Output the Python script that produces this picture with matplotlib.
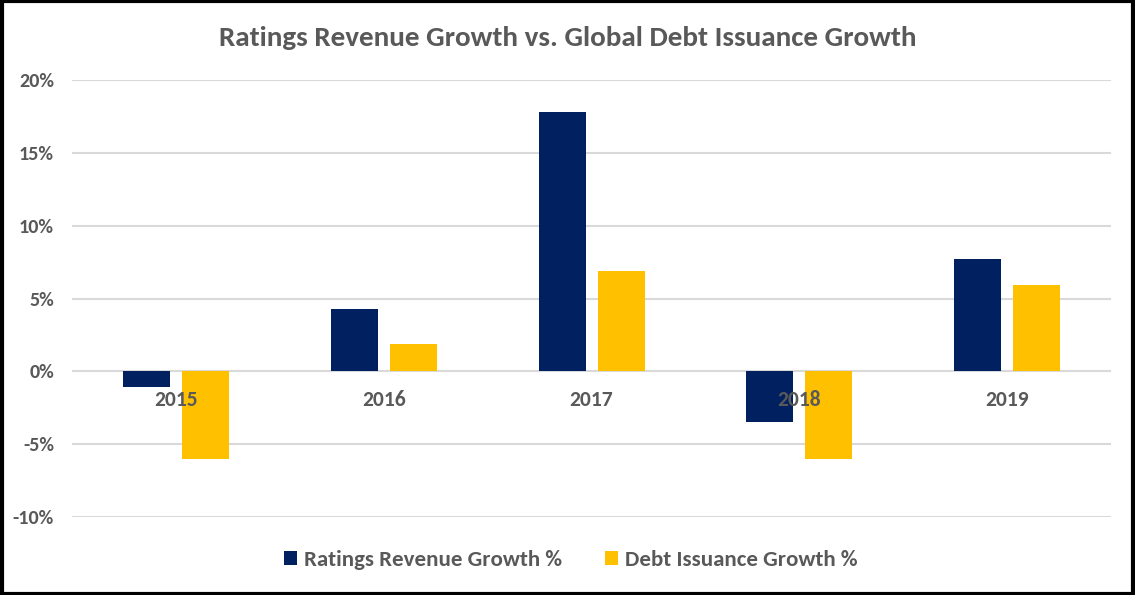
import matplotlib
matplotlib.use("Agg")
import matplotlib.pyplot as plt
import numpy as np
from matplotlib.patches import Rectangle

years = ["2015", "2016", "2017", "2018", "2019"]
ratings_growth = [-1.1, 4.3, 17.8, -3.5, 7.7]
debt_growth = [-6.0, 1.9, 6.9, -6.0, 5.9]
y_ticks = [-10, -5, 0, 5, 10, 15, 20]

NAVY = "#002060"
GOLD = "#FFC000"
INK = "#595959"
GRID = "#d9d9d9"

plt.rcParams["font.family"] = ["Carlito", "Liberation Sans Narrow", "DejaVu Sans"]
plt.rcParams["font.weight"] = "bold"

fig = plt.figure(figsize=(11.35, 5.95), dpi=100, facecolor="white")
ax = fig.add_axes([0.0634, 0.131, 0.9156, 0.7345])

x = np.arange(len(years))
w = 0.226
ax.bar(x - 0.142, ratings_growth, width=w, color=NAVY, label="Ratings Revenue Growth %", zorder=3)
ax.bar(x + 0.142, debt_growth, width=w, color=GOLD, label="Debt Issuance Growth %", zorder=3)

ax.set_xlim(-0.5, len(years) - 0.5)
ax.set_ylim(-10, 20)
ax.set_yticks(y_ticks)
ax.set_yticklabels([f"{t}%" for t in y_ticks], color=INK, fontsize=14.5, fontweight="bold")
ax.set_xticks([])
for s in ax.spines.values():
    s.set_visible(False)
ax.tick_params(axis="y", length=0, pad=13)
ax.grid(axis="y", color=GRID, linewidth=1.5, zorder=0)
ax.set_axisbelow(True)

# category labels sit just under the zero line, drawn over the bars
for xi, yr in zip(x, years):
    ax.annotate(yr, (xi, 0), xytext=(0, -29), textcoords="offset pixels",
                ha="center", va="center", color=INK, fontsize=15.5,
                fontweight="bold", zorder=5)

fig.text(0.5, 0.936, "Ratings Revenue Growth vs. Global Debt Issuance Growth",
         ha="center", va="center", color=INK, fontsize=21, fontweight="bold")

leg = fig.legend(loc="center", bbox_to_anchor=(0.503, 0.058), ncol=2, frameon=False,
                 fontsize=16.5, handlelength=0.55, handleheight=0.55,
                 columnspacing=1.9, handletextpad=0.3)
for t in leg.get_texts():
    t.set_color(INK)
    t.set_fontweight("bold")

fig.patches.append(Rectangle((0.0015, 0.0025), 0.997, 0.995, transform=fig.transFigure,
                             fill=False, edgecolor="black", linewidth=3))

fig.savefig("out.png", dpi=100, facecolor="white")
